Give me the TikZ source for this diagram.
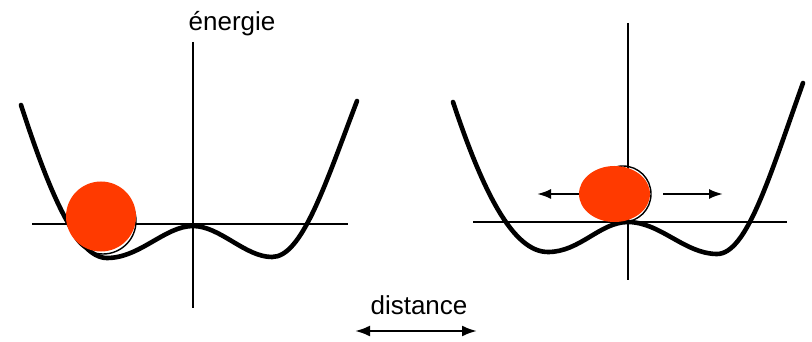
\documentclass[tikz,border=0pt]{standalone}
\usepackage{fontspec}
\setmainfont{Liberation Sans}
\usetikzlibrary{arrows.meta, positioning, shapes.geometric}
\definecolor{ballred}{RGB}{255,58,0}
\tikzset{
  axis/.style = {line width=1.8pt},
  well/.style = {line width=4.6pt, line cap=round, line join=round},
  ball/.style = {fill=ballred, draw=none, inner sep=0pt},
  rim/.style = {circle, draw=black, line width=1.4pt, inner sep=0pt},
  arr/.style = {-{Latex[length=14pt,width=10pt]}, line width=2.2pt},
  dbl/.style = {{Latex[length=15pt,width=11pt]}-{Latex[length=15pt,width=11pt]}, line width=2.4pt},
  lbl/.style = {font=\fontsize{26}{30}\selectfont, inner sep=0pt}
}

\begin{document}
\begin{tikzpicture}[x=1pt, y=-1pt]
\useasboundingbox (0,0) rectangle (812,342);

% Left well (ball in one minimum)
\coordinate (lTop) at (193,42);
\coordinate (lBot) at (193,308);
\coordinate (lLeft) at (32,224);
\coordinate (lRight) at (348,224);
\draw[axis] (lTop) -- (lBot);
\draw[axis] (lLeft) -- (lRight);
\node[lbl] (energie) at (232,24) {énergie};
\draw[well] (21,105) .. controls (48,188) and (76,258) .. (107,258)
  .. controls (140,258) and (165,226) .. (193,226)
  .. controls (220,226) and (245,257) .. (272,257)
  .. controls (302,257) and (325,185) .. (357,101);
\node[rim, minimum size=66pt] (lRim) at (103,221) {};
\node[ball, circle, minimum size=70pt] (lBall) at (101,216.5) {};

% Right well (ball on the hump)
\coordinate (rTop) at (628,23);
\coordinate (rBot) at (628,280);
\coordinate (rLeft) at (473,222);
\coordinate (rRight) at (787,222);
\draw[axis] (rTop) -- (rBot);
\draw[axis] (rLeft) -- (rRight);
\draw[well] (453,102) .. controls (483,192) and (513,252) .. (548,252)
  .. controls (580,252) and (600,222) .. (628,222)
  .. controls (660,222) and (685,254) .. (717,254)
  .. controls (747,254) and (770,175) .. (803,83);
\node[rim, minimum size=56pt] (rRim) at (623,194) {};
\node[ball, ellipse, minimum width=71pt, minimum height=56pt] (rBall) at (614.5,194) {};
\coordinate (rPushL) at (537,194);
\coordinate (rPushR) at (723,194);
\draw[arr] (rBall.west) -- (rPushL);
\draw[arr] ([xshift=13pt]rBall.east) -- (rPushR);

% Distance scale
\node[lbl] (distance) at (419,305) {distance};
\coordinate (dL) at (355,331);
\coordinate (dR) at (477,331);
\draw[dbl] (dL) -- (dR);

\end{tikzpicture}
\end{document}
